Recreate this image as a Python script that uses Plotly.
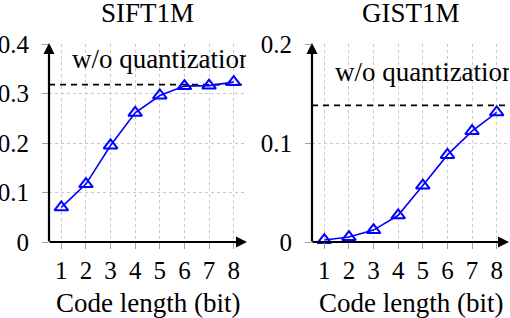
import plotly.graph_objects as go

bits = [1, 2, 3, 4, 5, 6, 7, 8]
sift_recall = [0.070, 0.117, 0.195, 0.261, 0.296, 0.315, 0.316, 0.323]
gist_recall = [0.002, 0.005, 0.012, 0.027, 0.057, 0.088, 0.112, 0.131]
sift_baseline = 0.318
gist_baseline = 0.138
titles = ["SIFT1M", "GIST1M"]
xlabel = "Code length (bit)"
baseline_label = "w/o quantization"

FONT = "Liberation Serif"
FS = 25
FS_BIG = 27
BLUE = "#0000ff"

W, H = 510, 318
def px_x(p):
    return p / W
def px_y(p):
    return 1 - p / H

fig = go.Figure()

panels = [
    dict(xa="x", ya="y", xaxis="xaxis", yaxis="yaxis", dom=(49, 246), yr=[0, 0.4],
         yt=[0, 0.1, 0.2, 0.3, 0.4], ytl=["0", "0.1", "0.2", "0.3", "0.4"],
         data=sift_recall, base=sift_baseline, title=titles[0], lab_y=0.366),
    dict(xa="x2", ya="y2", xaxis="xaxis2", yaxis="yaxis2", dom=(312, 509), yr=[0, 0.2],
         yt=[0, 0.1, 0.2], ytl=["0", "0.1", "0.2"],
         data=gist_recall, base=gist_baseline, title=titles[1], lab_y=0.169),
]

ytop, ybot = 44, 242
for p in panels:
    fig.add_trace(go.Scatter(x=[0.5, 8.5], y=[p["base"], p["base"]], mode="lines",
                             line=dict(color="black", width=1.6, dash="6px,5px"),
                             xaxis=p["xa"], yaxis=p["ya"], showlegend=False, hoverinfo="skip"))
    fig.add_trace(go.Scatter(x=bits, y=p["data"], mode="lines+markers",
                             line=dict(color=BLUE, width=1.6),
                             marker=dict(symbol="triangle-up-open", size=12, color=BLUE,
                                         line=dict(width=2, color=BLUE)),
                             xaxis=p["xa"], yaxis=p["ya"], showlegend=False, cliponaxis=False))
    fig.add_trace(go.Scatter(x=[1.43], y=[p["lab_y"]], mode="text", text=[baseline_label],
                             textposition="middle right",
                             textfont=dict(family=FONT, size=FS_BIG, color="black"),
                             xaxis=p["xa"], yaxis=p["ya"], showlegend=False, cliponaxis=True,
                             hoverinfo="skip"))
    d0, d1 = p["dom"]
    fig.layout[p["xaxis"]] = dict(
        domain=[px_x(d0), px_x(d1)], range=[0.5, 8.5], tickvals=bits,
        ticktext=[str(b) for b in bits], automargin=False,
        showgrid=True, gridcolor="#c8c8c8", griddash="dot", gridwidth=1.3,
        showline=False, zeroline=False, ticks="outside", ticklen=6, tickcolor="#a0a0a0",
        tickfont=dict(family=FONT, size=FS, color="black"), anchor=p["ya"],
        fixedrange=True)
    fig.layout[p["yaxis"]] = dict(
        domain=[px_y(ybot), px_y(ytop)], range=p["yr"], tickvals=p["yt"], ticktext=p["ytl"],
        showgrid=True, gridcolor="#c8c8c8", griddash="dot", gridwidth=1.3, automargin=False,
        showline=False, zeroline=False, ticks="outside", ticklen=6, tickcolor="#a0a0a0",
        tickfont=dict(family=FONT, size=FS, color="black"), anchor=p["xa"],
        ticklabelstandoff=8, fixedrange=True)
    # axis arrows
    fig.add_annotation(x=px_x(d1 + 1), y=px_y(ybot), ax=-(d1 - d0 + 2), ay=0,
                       xref="paper", yref="paper", axref="pixel", ayref="pixel",
                       showarrow=True, arrowhead=2, arrowsize=1, arrowwidth=2.2,
                       arrowcolor="black", text="")
    fig.add_annotation(x=px_x(d0), y=px_y(ytop - 1), ax=0, ay=(ybot - ytop + 2),
                       xref="paper", yref="paper", axref="pixel", ayref="pixel",
                       showarrow=True, arrowhead=2, arrowsize=1, arrowwidth=2.2,
                       arrowcolor="black", text="")
    cx = (d0 + d1) / 2
    fig.add_annotation(x=px_x(cx), y=px_y(13), xref="paper", yref="paper", text=p["title"],
                       showarrow=False, font=dict(family=FONT, size=FS_BIG, color="black"),
                       xanchor="center", yanchor="middle")
    fig.add_annotation(x=px_x(cx), y=px_y(303), xref="paper", yref="paper", text=xlabel,
                       showarrow=False, font=dict(family=FONT, size=FS_BIG, color="black"),
                       xanchor="center", yanchor="middle")

fig.update_layout(width=W, height=H, margin=dict(l=0, r=0, t=0, b=0),
                  paper_bgcolor="white", plot_bgcolor="white",
                  font=dict(family=FONT, size=FS, color="black"))

fig.write_html("out.html", config={"displayModeBar": False},
               post_script="document.body.style.margin='0px';document.body.style.overflow='hidden';")
